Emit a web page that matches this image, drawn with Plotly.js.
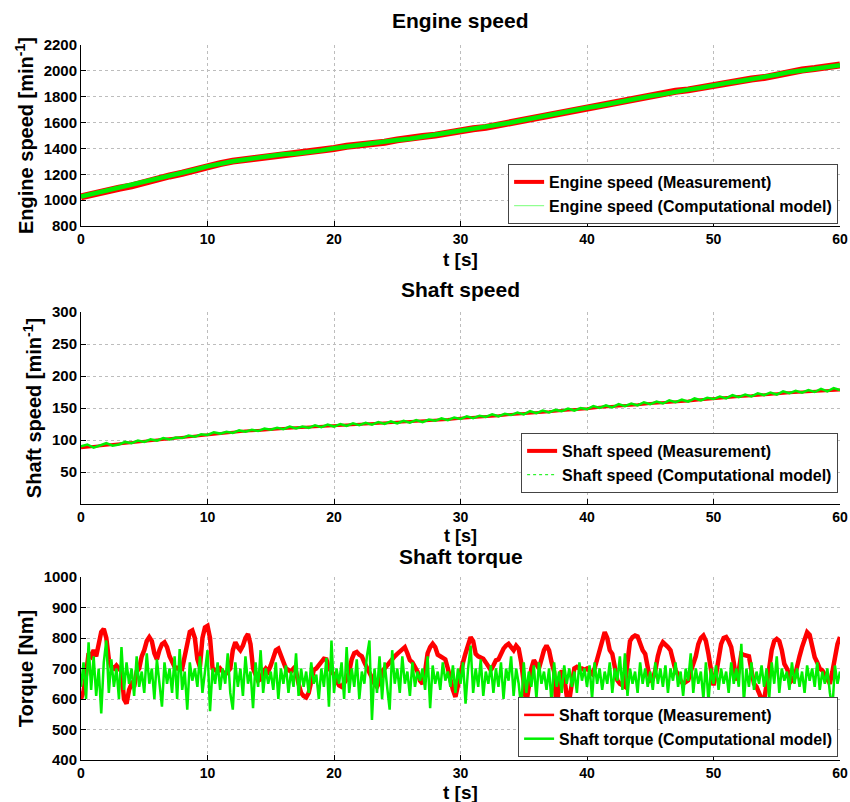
<!DOCTYPE html>
<html><head><meta charset="utf-8">
<script src="https://cdn.plot.ly/plotly-3.0.1.min.js"></script>
<style>html,body{margin:0;padding:0;background:#fff}#chart{width:850px;height:802px}</style>
</head><body><div id="chart"></div>
<script>
// ---------- DATA ----------
const engineStep = 1;   // s
const engineMeas = [1025,1050,1070,1092,1110,1140,1163,1187,1208,1236,1260,1283,1302,1313,1332,1343,1357,1358,1372,1383,1400,1417,1423,1437,1448,1466,1473,1492,1503,1522,1535,1552,1563,1582,1598,1622,1638,1657,1673,1697,1713,1732,1748,1772,1788,1807,1818,1842,1853,1872,1888,1907,1918,1937,1948,1972,1988,2007,2018,2032,2045];
const engineModel = [1028,1051,1072,1090,1112,1139,1165,1185,1210,1235,1261,1284,1301,1315,1330,1345,1355,1361,1370,1385,1401,1415,1425,1435,1450,1465,1475,1490,1505,1520,1536,1550,1565,1580,1600,1620,1640,1655,1675,1695,1715,1730,1750,1770,1790,1805,1820,1840,1855,1870,1890,1905,1920,1935,1950,1970,1990,2005,2020,2030,2044];

const shaftMeasStep = 1;
const shaftMeas = [88,90,92,94,96,98,100,102,104,107,109,111,113,114,115,117,118,119,120,121,122,123,124,125,126,127,128,129,131,132,134,135,137,138,140,141,143,144,146,147,149,151,152,154,155,157,158,160,161,163,165,166,168,169,171,172,174,175,176,177,178];
const shaftModelStep = 0.5;
const shaftModel = [90,93,88,92,95,91,93,97,95,99,97,101,99,103,101,104,103,107,105,109,108,112,110,113,111,115,113,116,114,118,116,119,117,121,118,121,119,123,120,124,121,125,122,126,123,127,124,128,125,129,126,130,127,131,128,132,130,134,131,135,133,137,134,138,136,140,137,141,139,143,140,145,142,146,143,147,145,149,146,150,148,153,150,154,151,156,153,157,154,159,156,160,157,162,159,163,160,165,162,166,164,168,165,170,167,171,168,173,170,174,171,176,173,177,174,178,175,180,176,181,178];

const torqueStep = 0.2;
const torqueMeas = [
600,625,680,750,740, 760,740,790,820,830, 800,730,705,700,710, 700,690,600,585,630,
650,640,690,700,740, 760,790,803,790,750, 730,760,780,786,770, 740,720,705,700,705,
700,740,790,820,825, 800,730,705,800,835, 840,800,700,695,690, 700,690,680,690,700,
760,786,770,760,775, 800,813,780,700,680, 660,665,690,700,690, 710,740,760,765,740,
715,700,695,690,700, 690,650,620,610,605, 620,660,695,700,710, 720,732,730,700,690,
680,660,645,640,650, 665,690,730,750,754, 745,740,720,705,690, 670,650,640,655,690,
700,710,725,730,740, 748,755,765,770,750, 727,720,705,690,660, 650,690,750,770,781,
770,745,740,735,730, 700,661,630,607,650, 694,720,750,780,803, 790,748,740,735,732,
720,705,694,710,727, 730,750,765,775,781, 770,760,775,765,720, 650,585,640,700,727,
715,700,730,760,775, 760,720,690,563,650, 694,670,610,596,650, 700,705,700,700,695,
700,690,683,700,730, 750,790,819,800,760, 748,700,661,650,645, 640,720,790,803,808,
805,780,760,748,700, 661,665,694,740,770, 786,780,770,760,720, 694,680,660,650,655,
661,690,715,740,780, 800,808,790,748,700, 645,680,737,780,800, 803,790,770,720,661,
694,748,745,743,740, 694,650,640,620,600, 596,640,700,760,790, 797,790,760,715,700,
680,661,670,715,740, 770,800,819,810,770, 737,720,700,694,680, 660,650,690,737,780,
803];
const torqueModel = [
640,720,600,786,630, 740,610,700,553,720, 792,620,730,640,700, 600,770,630,720,650,
700,610,740,640,690, 620,750,650,700,600, 730,640,575,720,650, 700,620,740,600,764,
630,690,565,720,660, 700,640,740,620,690, 760,560,700,650,720, 630,700,650,750,620,
565,720,640,700,610, 740,650,690,570,720, 640,760,620,700,650, 690,630,720,600,700,
650,710,620,690,640, 750,610,700,640,690, 620,720,650,680,600, 700,640,735,575,792,
620,700,650,720,600, 770,620,700,640,730, 600,690,650,740,792, 531,700,620,740,600,
720,640,565,760,650, 700,620,740,650,690, 610,720,640,690,660, 700,630,740,570,710,
650,690,630,720,660, 690,640,710,620,700, 650,720,585,700,775, 620,700,640,730,610,
690,650,710,620,700, 640,720,600,700,660, 740,610,700,650,569, 720,620,690,640,710,
600,720,650,690,630, 700,585,720,640,690, 620,710,650,700,640, 690,620,720,660,700,
640,710,600,720,650, 700,630,690,650,720, 620,700,660,740,630, 750,610,700,650,690,
620,720,650,700,640, 690,630,720,650,700, 640,710,620,700,660, 720,640,690,610,700,
660,750,620,700,650, 690,600,720,590,700, 650,710,630,700,650, 690,620,720,650,700,
640,781,590,700,640, 720,630,690,650,710, 640,700,600,720,650, 740,620,700,660,690,
630,720,650,700,640, 690,620,710,660,700, 640,720,630,690,650, 700,620,569,710,650,
690];

const tickX = [0,10,20,30,40,50,60];
const tickEngine = [800,1000,1200,1400,1600,1800,2000,2200];
const tickShaft = [50,100,150,200,250,300];
const tickTorque = [400,500,600,700,800,900,1000];

// ---------- BUILD ----------
const times = (n, step) => Array.from({length: n}, (_, i) => +(i * step).toFixed(3));
const RED = 'rgb(255,0,0)', GREEN = 'rgb(0,240,0)';
const FONT = 'Liberation Sans, Arial, sans-serif';

const traces = [
  {x: times(engineMeas.length, engineStep), y: engineMeas, xaxis:'x', yaxis:'y', mode:'lines', line:{color:RED, width:7}, showlegend:false},
  {x: times(engineModel.length, engineStep), y: engineModel, xaxis:'x', yaxis:'y', mode:'lines', line:{color:GREEN, width:4.5}, showlegend:false},
  {x:[null], y:[null], xaxis:'x', yaxis:'y', mode:'lines', name:'Engine speed (Measurement)', line:{color:RED, width:4}, legend:'legend'},
  {x:[null], y:[null], xaxis:'x', yaxis:'y', mode:'lines', name:'Engine speed (Computational model)', line:{color:'rgb(120,255,120)', width:1}, legend:'legend'},

  {x: times(shaftMeas.length, shaftMeasStep), y: shaftMeas, xaxis:'x2', yaxis:'y2', mode:'lines', line:{color:RED, width:3}, showlegend:false},
  {x: times(shaftModel.length, shaftModelStep), y: shaftModel, xaxis:'x2', yaxis:'y2', mode:'lines', line:{color:GREEN, width:2.5}, showlegend:false},
  {x:[null], y:[null], xaxis:'x2', yaxis:'y2', mode:'lines', name:'Shaft speed (Measurement)', line:{color:RED, width:4}, legend:'legend2'},
  {x:[null], y:[null], xaxis:'x2', yaxis:'y2', mode:'lines', name:'Shaft speed (Computational model)', line:{color:GREEN, width:1, dash:'dot'}, legend:'legend2'},

  {x: times(torqueMeas.length, torqueStep), y: torqueMeas, xaxis:'x3', yaxis:'y3', mode:'lines', line:{color:RED, width:4.5}, showlegend:false},
  {x: times(torqueModel.length, torqueStep), y: torqueModel, xaxis:'x3', yaxis:'y3', mode:'lines', line:{color:GREEN, width:2.5}, showlegend:false},
  {x:[null], y:[null], xaxis:'x3', yaxis:'y3', mode:'lines', name:'Shaft torque (Measurement)', line:{color:RED, width:2.5}, legend:'legend3'},
  {x:[null], y:[null], xaxis:'x3', yaxis:'y3', mode:'lines', name:'Shaft torque (Computational model)', line:{color:GREEN, width:2.5}, legend:'legend3'}
];

const H = 802;
const dom = (top, bottom) => [1 - bottom / H, 1 - top / H];
const tickFont = {family: FONT, size: 14, color: '#000', weight: 'bold'};
const titleFont = {family: FONT, size: 20, color: '#000', weight: 'bold'};

function xax(anchor) {
  return {anchor, domain:[0,1], range:[0,60], tickvals: tickX, ticks:'inside', ticklen:5, tickcolor:'#000',
    showline:true, linecolor:'#000', linewidth:1, mirror:false, zeroline:false,
    showgrid:true, gridcolor:'#bdbdbd', griddash:'dot', gridwidth:1, tickfont: tickFont};
}
function yax(anchor, domain, range, tv, title) {
  return {anchor, domain, range, tickvals: tv, ticks:'inside', ticklen:5, tickcolor:'#000',
    showline:true, linecolor:'#000', linewidth:1, mirror:false, zeroline:false,
    showgrid:true, gridcolor:'#bdbdbd', griddash:'dot', gridwidth:1,
    tickfont: {family: FONT, size: 15, color: '#000', weight: 'bold'}, title:{text: title, font: titleFont, standoff:4}};
}
const legendBase = (yb) => ({x:0.9975, xanchor:'right', y:yb, yanchor:'bottom', bgcolor:'#fff',
  bordercolor:'#444', borderwidth:1, font:{family:FONT, size:16, color:'#000', weight:'bold'},
  tracegroupgap:0, itemwidth:30});

const d1 = dom(45, 226), d2 = dom(312, 504), d3 = dom(577, 760);
const ann = (text, yc, size) => ({text, x:0.5, xref:'paper', xanchor:'center', y:1 - yc/H, yref:'paper', yanchor:'middle',
  showarrow:false, font:{family:FONT, size, color:'#000', weight:'bold'}});
const layout = {
  width:850, height:802, paper_bgcolor:'#fff', plot_bgcolor:'#fff',
  margin:{l:81, r:10, t:0, b:0}, showlegend:true,
  xaxis: xax('y'),
  yaxis: yax('x', d1, [800,2200], tickEngine, 'Engine speed [min<sup>-1</sup>]'),
  xaxis2: xax('y2'),
  yaxis2: yax('x2', d2, [0,300], tickShaft, 'Shaft speed [min<sup>-1</sup>]'),
  xaxis3: xax('y3'),
  yaxis3: yax('x3', d3, [400,1000], tickTorque, 'Torque [Nm]'),
  legend: legendBase(d1[0] + 2/H),
  legend2: legendBase(d2[0] + 11/H),
  legend3: legendBase(d3[0] + 3/H),
  annotations: [
    ann('Engine speed', 20, 21), ann('Shaft speed', 289, 21), ann('Shaft torque', 556, 21),
    ann('t [s]', 259, 19), ann('t [s]', 536, 18), ann('t [s]', 792, 19)
  ]
};
Plotly.newPlot('chart', traces, layout, {displayModeBar:false, staticPlot:true});
</script></body></html>
